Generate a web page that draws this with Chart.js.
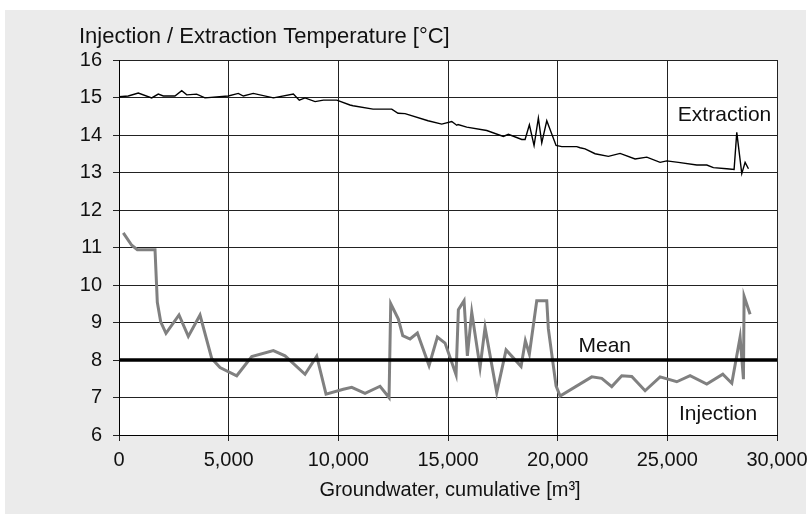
<!DOCTYPE html>
<html>
<head>
<meta charset="utf-8">
<script src="https://cdn.jsdelivr.net/npm/chart.js@4/dist/chart.umd.min.js"></script>
<style>
html,body{margin:0;padding:0;background:#fff;}
canvas{display:block;}
</style>
</head>
<body>
<canvas id="c" width="808" height="517"></canvas>
<script>
// ---- data ----
const extractionX = [0,423,880,1490,1790,2020,2550,2860,3090,3540,3920,4980,5440,5670,6120,7040,7950,8220,8480,8940,9320,9930,10530,10670,11582,12435,12722,13042,14090,14715,15171,15399,15458,15855,16767,17524,17753,18363,18514,18710,18924,19120,19275,19503,19927,20187,20871,21022,21250,21706,22313,22846,23530,24063,24670,24974,25504,26343,26799,27100,27708,28044,28166,28394,28546,28699];
const extractionY = [15.02,15.04,15.12,14.99,15.09,15.04,15.04,15.18,15.07,15.09,14.99,15.04,15.11,15.04,15.11,14.99,15.09,14.93,14.99,14.89,14.93,14.93,14.8,14.78,14.69,14.69,14.58,14.57,14.38,14.29,14.36,14.26,14.28,14.21,14.12,13.96,14.02,13.88,13.88,14.27,13.72,14.45,13.79,14.38,13.72,13.69,13.69,13.66,13.63,13.5,13.43,13.51,13.36,13.41,13.27,13.31,13.27,13.2,13.2,13.13,13.1,13.08,14.07,12.97,13.27,13.1];

const injectionX = [196,579,835,1642,1747,1901,2143,2736,3160,3694,4227,4606,5367,6051,7037,7570,8482,9015,9439,10228,10611,11218,11902,12312,12389,12736,12937,13270,13604,14136,14515,14866,15367,15473,15732,15883,16083,16462,16690,17223,17648,18331,18527,18710,19046,19503,19576,19927,20110,21554,22010,22466,22922,23378,23986,24670,25430,26038,26799,27529,27939,28318,28470,28500,28774];
const injectionY = [11.39,11.06,10.94,10.94,9.54,9.02,8.71,9.2,8.63,9.2,8.04,7.8,7.58,8.09,8.25,8.11,7.62,8.1,7.09,7.22,7.27,7.11,7.3,7.0,9.5,9.09,8.65,8.56,8.72,7.85,8.61,8.45,7.61,9.34,9.58,8.11,9.27,7.8,8.87,7.13,8.27,7.83,8.51,8.16,9.58,9.58,8.83,7.31,7.04,7.55,7.51,7.29,7.58,7.56,7.18,7.55,7.42,7.58,7.36,7.62,7.38,8.61,7.49,9.7,9.22];

const meanValue = 8;
const xTicksMax = 30000, xStep = 5000;
const yMin = 6, yMax = 16, yStep = 1;

const yTitle = 'Injection / Extraction Temperature [°C]';
const xTitle = 'Groundwater, cumulative [m³]';
const labels = [
  {text:'Extraction', x:25480, y:14.37},
  {text:'Mean', x:20950, y:8.22},
  {text:'Injection', x:25530, y:6.40}
];

const FONT = '"Liberation Sans", Arial, sans-serif';

const pts = (xs, ys) => xs.map((x,i)=>({x:x, y:ys[i]}));

const bgPlugin = {
  id:'bg',
  beforeDraw(chart){
    const ctx = chart.ctx, a = chart.chartArea;
    ctx.save();
    ctx.fillStyle = '#ffffff';
    ctx.fillRect(0,0,chart.width,chart.height);
    ctx.fillStyle = '#ebebeb';
    ctx.fillRect(5,10,801,504);
    ctx.fillStyle = '#ffffff';
    ctx.fillRect(a.left,a.top,a.right-a.left,a.bottom-a.top);
    ctx.restore();
  },
  afterDraw(chart){
    const ctx = chart.ctx, xs = chart.scales.x, ys = chart.scales.y;
    ctx.save();
    ctx.fillStyle = '#111';
    ctx.textBaseline = 'alphabetic';
    ctx.textAlign = 'left';
    ctx.font = '22px ' + FONT;
    ctx.fillText(yTitle, 79, 43);
    ctx.font = '20px ' + FONT;
    ctx.textAlign = 'center';
    ctx.fillText(xTitle, (chart.chartArea.left+chart.chartArea.right)/2 + 2, 496);
    ctx.textAlign = 'left';
    ctx.font = '21px ' + FONT;
    labels.forEach(l=>{
      ctx.fillText(l.text, xs.getPixelForValue(l.x), ys.getPixelForValue(l.y));
    });
    ctx.restore();
  }
};

new Chart(document.getElementById('c'), {
  type:'scatter',
  data:{
    datasets:[
      {label:'Mean', data:[{x:0,y:meanValue},{x:xTicksMax,y:meanValue}], showLine:true, borderColor:'#000', borderWidth:3.5, pointRadius:0, tension:0},
      {label:'Extraction', data:pts(extractionX, extractionY), showLine:true, borderColor:'#000', borderWidth:1.4, pointRadius:0, tension:0},
      {label:'Injection', data:pts(injectionX, injectionY), showLine:true, borderColor:'#808080', borderWidth:3, pointRadius:0, tension:0}
    ]
  },
  options:{
    responsive:false,
    animation:false,
    devicePixelRatio:1,
    locale:'en-US',
    layout:{padding:{left:0, top:60, right:31, bottom:0}},
    plugins:{legend:{display:false}, tooltip:{enabled:false}},
    scales:{
      x:{
        type:'linear', min:0, max:xTicksMax,
        ticks:{stepSize:xStep, color:'#111', font:{family:FONT, size:20}, padding:7, maxRotation:0},
        grid:{color:'#222', lineWidth:1, tickLength:6},
        border:{color:'#000', width:1},
        afterFit(s){ s.height = 82; s.paddingRight = 0; s.paddingLeft = 0; }
      },
      y:{
        type:'linear', min:yMin, max:yMax,
        ticks:{stepSize:yStep, color:'#111', font:{family:FONT, size:20}, padding:11},
        grid:{color:'#222', lineWidth:1, tickLength:6},
        border:{color:'#000', width:1},
        afterFit(s){ s.width = 119; s.paddingTop = 0; s.paddingBottom = 0; }
      }
    }
  },
  plugins:[bgPlugin]
});
</script>
</body>
</html>
